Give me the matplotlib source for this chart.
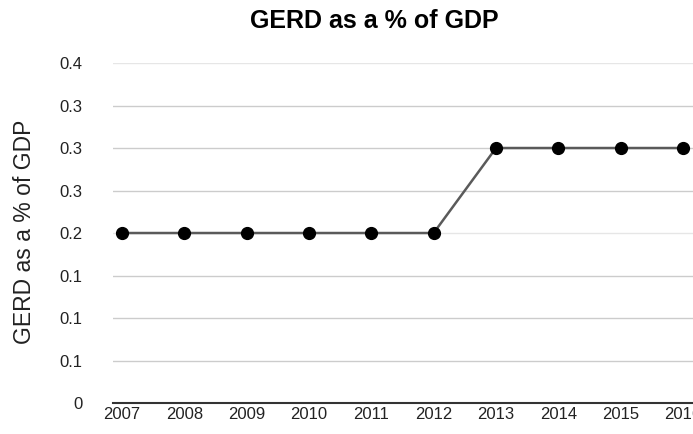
import matplotlib
matplotlib.use("Agg")
from matplotlib import pyplot as plt

years = [2007, 2008, 2009, 2010, 2011, 2012, 2013, 2014, 2015, 2016]
gerd = [0.2, 0.2, 0.2, 0.2, 0.2, 0.2, 0.3, 0.3, 0.3, 0.3]
yticks = [0, 0.05, 0.1, 0.15, 0.2, 0.25, 0.3, 0.35, 0.4]
ytick_labels = ["0", "0.1", "0.1", "0.1", "0.2", "0.3", "0.3", "0.3", "0.4"]

plt.rcParams["font.family"] = ["Liberation Sans", "DejaVu Sans"]

fig = plt.figure(figsize=(6.93, 4.34), dpi=100)
ax = fig.add_axes([0.163, 0.0714, 0.837, 0.7834])

ax.plot(years, gerd, color="#5a5a5a", lw=1.8, marker="o", markersize=8.5,
        markerfacecolor="black", markeredgecolor="black", zorder=3, clip_on=False)

ax.set_xlim(2006.856, 2016.16)
ax.set_ylim(0, 0.4)
ax.set_yticks(yticks)
ax.set_yticklabels(ytick_labels)
ax.set_xticks(years)
# gridlines drawn by hand so a few can be lighter, like the original
for t in yticks[1:]:
    c = "#e6e6e6" if t in (0.2, 0.4) else "#cccccc"
    ax.axhline(t, color=c, lw=1, zorder=1)
for s in ["top", "right", "left"]:
    ax.spines[s].set_visible(False)
ax.spines["bottom"].set_color("#333333")
ax.spines["bottom"].set_linewidth(1.5)
ax.tick_params(axis="both", length=0, labelsize=12, colors="#222222")
ax.tick_params(axis="y", pad=22)
ax.tick_params(axis="x", pad=3)

fig.text(0.035, 0.465, "GERD as a % of GDP", fontsize=16.5, color="#222222",
         rotation=90, ha="center", va="center")
fig.text(0.540, 0.952, "GERD as a % of GDP", fontsize=18, fontweight="bold",
         ha="center", va="center")

fig.savefig("out.png", dpi=100)
